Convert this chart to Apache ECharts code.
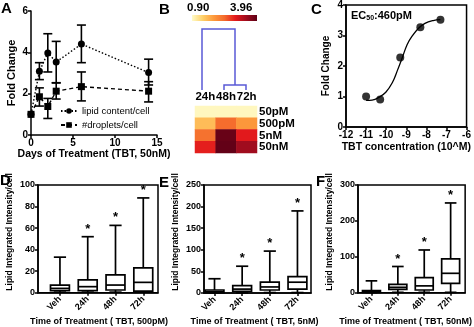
<!DOCTYPE html>
<html><head><meta charset="utf-8">
<script src="https://cdn.jsdelivr.net/npm/echarts@6/dist/echarts.min.js"></script>
<style>html,body{margin:0;padding:0;background:#fff}#c{width:474px;height:327px}</style>
</head><body><div id="c"></div>
<script>
// Panel A
const daysA = [0, 1, 2, 3, 6, 14];
const lipidMean = [1.0, 3.08, 3.97, 3.53, 4.40, 3.02];
const lipidHi = [1.0, 3.50, 4.90, 4.53, 5.32, 3.67];
const lipidLo = [1.0, 2.68, 3.05, 2.52, 3.50, 2.42];
const dropMean = [1.0, 1.85, 1.38, 2.12, 2.34, 2.12];
const dropHi = [1.0, 2.28, 1.77, 2.53, 3.05, 2.58];
const dropLo = [1.0, 1.40, 0.80, 1.74, 1.65, 1.60];
// Panel B
const hmCols = ['24h', '48h', '72h'];
const hmRows = ['50pM', '500pM', '5nM', '50nM'];
const hmValues = [
  [0.95, 0.95, 0.95],
  [1.60, 2.40, 1.95],
  [2.35, 3.88, 2.95],
  [2.90, 3.92, 3.45]
];
const hmMin = 0.90, hmMax = 3.96;
// Panel C
const concLog = [-11, -10.3, -9.3, -8.3, -7.3];
const foldC = [1.0, 0.9, 2.28, 3.27, 3.52];
const curveX = [-11, -10.7, -10.34, -10.02, -9.69, -9.45, -9.2, -8.96, -8.72, -8.39, -8.07, -7.66, -7.3];
const curveY = [0.87, 0.88, 0.98, 1.14, 1.46, 1.84, 2.27, 2.70, 2.97, 3.24, 3.40, 3.49, 3.52];
// Panels D/E/F  [min, Q1, median, Q3, max]
const boxCats = ['Veh', '24h', '48h', '72h'];
const starFlags = [0, 1, 1, 1];
const boxD = [[0.5, 2, 4, 7, 33], [0.5, 2, 5.6, 12, 52], [0.5, 2.5, 7.1, 16.5, 62.5], [0.5, 1.5, 9.6, 23, 88]];
const boxE = [[0.5, 1, 3, 7, 33], [0.5, 4, 9, 17, 62], [1, 7, 14, 25, 97], [1, 9, 25, 38, 190]];
const boxF = [[0.5, 1, 3, 6, 33], [1, 9.5, 15, 23, 73], [1, 7.5, 19, 42, 119], [1, 26, 54, 94, 250]];

const FF = 'Liberation Sans, Arial, sans-serif';
const hmColors = ['#fffbc8', '#fed068', '#fd9a3c', '#f46a2c', '#e3191c', '#a00c1e', '#5e0016'];

const chart = echarts.init(document.getElementById('c'), null, {renderer: 'canvas'});

function axLine(){ return {show: true, onZero: false, lineStyle: {color: '#000', width: 1.5}}; }
function axTick(){ return {show: true, length: 3, lineStyle: {color: '#000', width: 1.5}}; }
function axLab(fs){ return {color: '#000', fontFamily: FF, fontWeight: 'bold', fontSize: fs, margin: 3}; }

const grids = [
  {left: 31, top: 11, width: 126, height: 124},
  {left: 195, top: 106, width: 62, height: 47},
  {left: 346, top: 3.5, width: 124, height: 123.5, show: true, borderColor: '#000', borderWidth: 1.5},
  {left: 38, top: 185, width: 120, height: 107.7, show: true, borderColor: '#000', borderWidth: 1.5},
  {left: 204, top: 185, width: 107, height: 108.3, show: true, borderColor: '#000', borderWidth: 1.5},
  {left: 358, top: 185, width: 110, height: 107.7, show: true, borderColor: '#000', borderWidth: 1.5}
];

function boxX(gi, min, max, title, pad){
  return {type: 'value', gridIndex: gi, min: min, max: max, splitLine: {show: false},
    axisLine: axLine(), axisTick: Object.assign(axTick(), {customValues: [1, 2, 3, 4]}),
    axisLabel: Object.assign(axLab(9), {customValues: [1, 2, 3, 4], rotate: 45, margin: 5,
      formatter: v => boxCats[Math.round(v) - 1] || ''}),
    name: title, nameLocation: 'middle', nameGap: 24,
    nameTextStyle: {color: '#000', fontFamily: FF, fontWeight: 'bold', fontSize: 9, padding: pad}};
}
function boxY(gi, max, interval){
  return {type: 'value', gridIndex: gi, min: 0, max: max, interval: interval, splitLine: {show: false},
    axisLine: axLine(), axisTick: axTick(), axisLabel: axLab(9),
    name: 'Lipid Integrated Intensity/cell', nameLocation: 'middle', nameGap: 24,
    nameTextStyle: {color: '#000', fontFamily: FF, fontWeight: 'bold', fontSize: 8.5, padding: [0, 0, 0, 14]}};
}

const xAxes = [
  {type: 'value', gridIndex: 0, min: 0, max: 15, interval: 5, splitLine: {show: false},
    axisLine: axLine(), axisTick: axTick(), axisLabel: axLab(10),
    name: 'Days of Treatment (TBT, 50nM)', nameLocation: 'middle', nameGap: 13,
    nameTextStyle: {color: '#000', fontFamily: FF, fontWeight: 'bold', fontSize: 10.5}},
  {type: 'category', gridIndex: 1, data: hmCols, position: 'top', axisLine: {show: false}, axisTick: {show: false},
    axisLabel: {color: '#000', fontFamily: FF, fontWeight: 'bold', fontSize: 11.5, margin: 3, interval: 0, hideOverlap: false}},
  {type: 'value', gridIndex: 2, min: -12, max: -6, interval: 1, splitLine: {show: false},
    axisLine: axLine(), axisTick: axTick(), axisLabel: axLab(10),
    name: 'TBT concentration (10^M)', nameLocation: 'middle', nameGap: 15,
    nameTextStyle: {color: '#000', fontFamily: FF, fontWeight: 'bold', fontSize: 10.5}},
  boxX(3, 0.21, 4.53, 'Time of Treatment ( TBT, 500pM)', [0, 0, 0, 2]),
  boxX(4, 0.62, 4.49, 'Time of Treatment ( TBT, 5nM)', [0, 6, 0, 0]),
  boxX(5, 0.49, 4.55, 'Time of Treatment ( TBT, 50nM)', [0, 12, 0, 0])
];
const yAxes = [
  {type: 'value', gridIndex: 0, min: 0, max: 6, interval: 2, splitLine: {show: false},
    axisLine: axLine(), axisTick: axTick(), axisLabel: axLab(10),
    name: 'Fold Change', nameLocation: 'middle', nameGap: 14,
    nameTextStyle: {color: '#000', fontFamily: FF, fontWeight: 'bold', fontSize: 11}},
  {type: 'category', gridIndex: 1, data: hmRows, inverse: true, position: 'right', axisLine: {show: false}, axisTick: {show: false},
    axisLabel: {color: '#000', fontFamily: FF, fontWeight: 'bold', fontSize: 11.5, margin: 2, interval: 0, hideOverlap: false}},
  {type: 'value', gridIndex: 2, min: 0, max: 4, interval: 1, splitLine: {show: false},
    axisLine: axLine(), axisTick: axTick(), axisLabel: axLab(10),
    name: 'Fold Change', nameLocation: 'middle', nameGap: 15,
    nameTextStyle: {color: '#000', fontFamily: FF, fontWeight: 'bold', fontSize: 10}},
  boxY(3, 100, 20),
  boxY(4, 250, 50),
  boxY(5, 300, 100)
];

function errRender(params, api){
  const x = api.value(0), lo = api.value(1), hi = api.value(2);
  if (hi === lo) return null;
  const a = api.coord([x, hi]), b = api.coord([x, lo]);
  const w = 4.5;
  const st = {stroke: '#000', lineWidth: 1.6};
  return {type: 'group', children: [
    {type: 'line', shape: {x1: a[0], y1: a[1], x2: b[0], y2: b[1]}, style: st},
    {type: 'line', shape: {x1: a[0] - w, y1: a[1], x2: a[0] + w, y2: a[1]}, style: st},
    {type: 'line', shape: {x1: b[0] - w, y1: b[1], x2: b[0] + w, y2: b[1]}, style: st}
  ]};
}
function boxRender(params, api){
  const x = api.value(0);
  const vals = [1, 2, 3, 4, 5].map(i => api.value(i));
  const star = api.value(6);
  const bw = api.size([0.68, 0])[0];
  const cw = api.size([0.44, 0])[0];
  const pMin = api.coord([x, vals[0]]), pQ1 = api.coord([x, vals[1]]), pMed = api.coord([x, vals[2]]),
        pQ3 = api.coord([x, vals[3]]), pMax = api.coord([x, vals[4]]);
  const cx = pMin[0];
  const st = {stroke: '#000', lineWidth: 1.7, fill: null};
  const ch = [
    {type: 'line', shape: {x1: cx, y1: pMax[1], x2: cx, y2: pQ3[1]}, style: st},
    {type: 'line', shape: {x1: cx, y1: pQ1[1], x2: cx, y2: pMin[1]}, style: st},
    {type: 'line', shape: {x1: cx - cw / 2, y1: pMax[1], x2: cx + cw / 2, y2: pMax[1]}, style: st},
    {type: 'line', shape: {x1: cx - cw / 2, y1: pMin[1], x2: cx + cw / 2, y2: pMin[1]}, style: st},
    {type: 'rect', shape: {x: cx - bw / 2, y: pQ3[1], width: bw, height: pQ1[1] - pQ3[1]}, style: {stroke: '#000', lineWidth: 1.7, fill: '#fff'}},
    {type: 'line', shape: {x1: cx - bw / 2, y1: pMed[1], x2: cx + bw / 2, y2: pMed[1]}, style: st}
  ];
  if (star) ch.push({type: 'text', x: cx, y: pMax[1] - 1, style: {text: '*', fill: '#000', font: 'bold 13px Liberation Sans, Arial', align: 'center', verticalAlign: 'bottom'}});
  return {type: 'group', children: ch};
}
function boxSeries(gi, arr){
  return {type: 'custom', xAxisIndex: gi, yAxisIndex: gi, renderItem: boxRender, silent: true,
    encode: {x: 0, y: [1, 5]},
    data: arr.map((v, i) => [i + 1].concat(v).concat([starFlags[i]]))};
}

const hmData = [];
hmRows.forEach((r, ri) => hmCols.forEach((c, ci) => hmData.push([ci, ri, hmValues[ri][ci]])));

const series = [
  {name: 'lipid content/cell', type: 'line', xAxisIndex: 0, yAxisIndex: 0,
    data: daysA.map((d, i) => [d, lipidMean[i]]), symbol: 'circle', symbolSize: 7,
    itemStyle: {color: '#000'}, lineStyle: {color: '#000', width: 1.4, type: [1.5, 2]}, z: 5},
  {name: '#droplets/cell', type: 'line', xAxisIndex: 0, yAxisIndex: 0,
    data: daysA.map((d, i) => [d, dropMean[i]]), symbol: 'rect', symbolSize: 7,
    itemStyle: {color: '#000'}, lineStyle: {color: '#000', width: 1.4, type: [4, 3]}, z: 5},
  {type: 'custom', xAxisIndex: 0, yAxisIndex: 0, renderItem: errRender, encode: {x: 0, y: [1, 2]},
    data: daysA.map((d, i) => [d, lipidLo[i], lipidHi[i]])},
  {type: 'custom', xAxisIndex: 0, yAxisIndex: 0, renderItem: errRender, encode: {x: 0, y: [1, 2]},
    data: daysA.map((d, i) => [d, dropLo[i], dropHi[i]])},
  {type: 'heatmap', xAxisIndex: 1, yAxisIndex: 1, data: hmData, itemStyle: {borderWidth: 0}},
  {type: 'line', xAxisIndex: 2, yAxisIndex: 2, data: curveX.map((x, i) => [x, curveY[i]]),
    smooth: 0.4, showSymbol: false, lineStyle: {color: '#000', width: 1.3}},
  {type: 'scatter', xAxisIndex: 2, yAxisIndex: 2, data: concLog.map((x, i) => [x, foldC[i]]),
    symbol: 'circle', symbolSize: 8, itemStyle: {color: '#000'}},
  boxSeries(3, boxD),
  boxSeries(4, boxE),
  boxSeries(5, boxF)
];

const gradStops = hmColors.map((c, i) => ({offset: i / (hmColors.length - 1), color: c}));
const dendro = '#5a5ad6';
function letter(t, x, y){ return {type: 'text', left: x, top: y, style: {text: t, fill: '#000', font: 'bold 15px Liberation Sans, Arial'}}; }
function dl(pts){ return {type: 'polyline', shape: {points: pts}, style: {stroke: dendro, lineWidth: 1.5, fill: null}}; }

chart.setOption({
  animation: false,
  grid: grids, xAxis: xAxes, yAxis: yAxes, series: series,
  visualMap: {show: false, type: 'continuous', min: hmMin, max: hmMax, seriesIndex: 4, inRange: {color: hmColors}},
  legend: {data: ['lipid content/cell', '#droplets/cell'], orient: 'vertical', left: 55, top: 101,
    itemWidth: 16, itemHeight: 7, itemGap: 4,
    textStyle: {color: '#000', fontFamily: FF, fontSize: 9.5}},
  graphic: [
    letter('A', 1, 1), letter('B', 159, 2), letter('C', 311, 2),
    letter('D', 0, 173), letter('E', 159, 175), letter('F', 316, 174),
    {type: 'rect', shape: {x: 192, y: 15, width: 65, height: 6},
      style: {fill: new echarts.graphic.LinearGradient(0, 0, 1, 0, gradStops)}},
    {type: 'text', x: 187, y: 2, style: {text: hmMin.toFixed(2), fill: '#000', font: 'bold 11.5px Liberation Sans, Arial'}},
    {type: 'text', x: 230, y: 2, style: {text: hmMax.toFixed(2), fill: '#000', font: 'bold 11.5px Liberation Sans, Arial'}},
    dl([[202, 90], [202, 29], [235, 29], [235, 85]]),
    dl([[224, 90], [224, 85], [246, 85], [246, 90]]),
    {type: 'text', x: 351, y: 9, style: {rich: {
        a: {font: 'bold 11px Liberation Sans, Arial', fill: '#000'},
        s: {font: 'bold 7px Liberation Sans, Arial', fill: '#000', padding: [6, 0, 0, 0]}},
      text: '{a|EC}{s|50}{a|:460pM}'}}
  ]
});
</script></body></html>
